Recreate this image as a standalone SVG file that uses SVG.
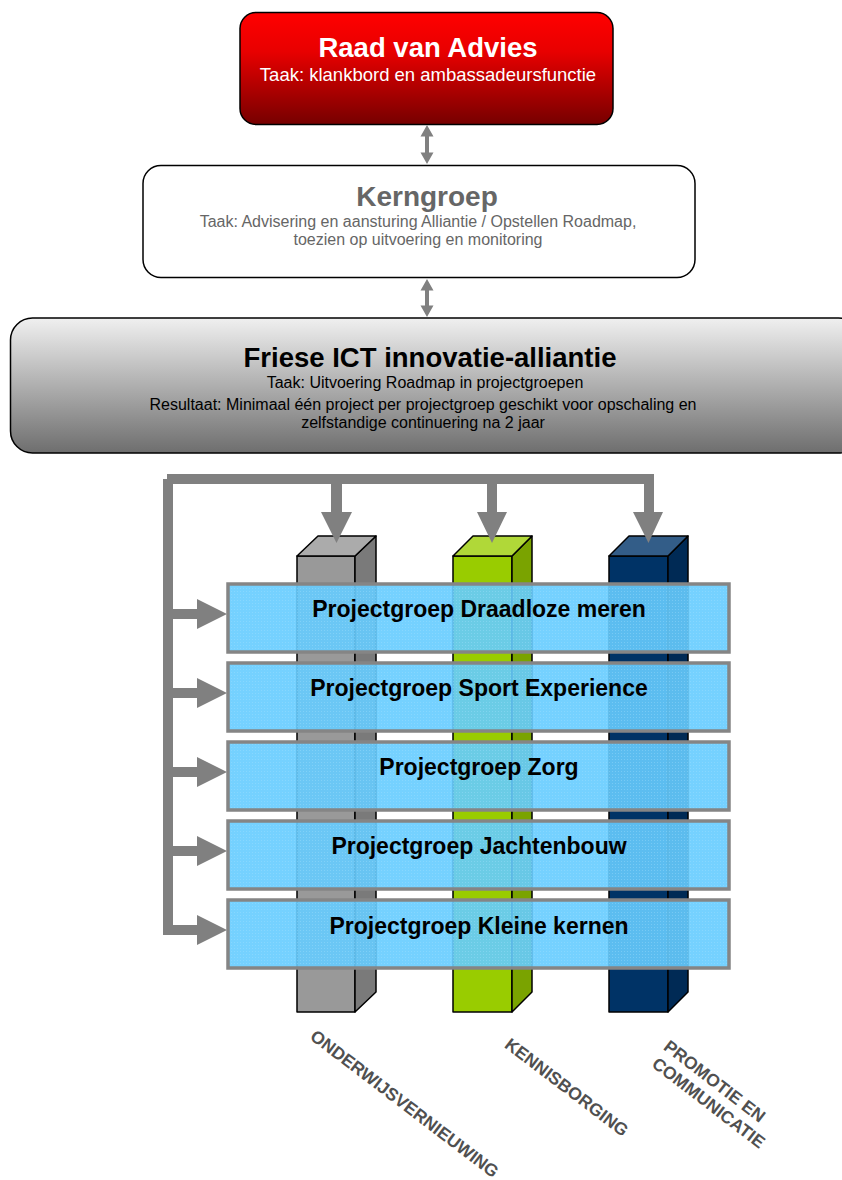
<svg xmlns="http://www.w3.org/2000/svg" width="842" height="1180" viewBox="0 0 842 1180">
<style>
text{font-family:"Liberation Sans",Arial,sans-serif}
.t{font-weight:bold;text-anchor:middle}
.s{text-anchor:middle}
.pg{font-weight:bold;font-size:23px;text-anchor:middle;fill:#000}
.pbox{fill:#66ccff;fill-opacity:0.9;stroke:#858585;stroke-width:3.5}
.tex{fill:url(#grid);stroke:none}
.edge{stroke:#000;stroke-width:1.5;stroke-linejoin:round}
.arr{fill:#808080;stroke:none}
.lab{font-weight:bold;font-size:17.5px;fill:#505050;text-anchor:middle}
</style>
<defs>
<linearGradient id="gRed" x1="0" y1="0" x2="0" y2="1">
<stop offset="0" stop-color="#ff0000"/>
<stop offset="0.35" stop-color="#e80000"/>
<stop offset="1" stop-color="#760000"/>
</linearGradient>
<linearGradient id="gGray" x1="0" y1="0" x2="0" y2="1">
<stop offset="0" stop-color="#f0f0f0"/>
<stop offset="1" stop-color="#6e6e6e"/>
</linearGradient>
<pattern id="grid" width="3" height="3" patternUnits="userSpaceOnUse">
<rect x="0" y="0" width="1" height="1" fill="#a8e2ff" fill-opacity="0.35"/>
</pattern>
</defs>

<g id="raad-van-advies">
<rect x="240" y="12.5" width="373" height="112" rx="16" fill="url(#gRed)" stroke="#000" stroke-width="1.5"/>
<text class="t" x="428" y="57" font-size="27.5" fill="#fff">Raad van Advies</text>
<text class="s" x="428" y="81" font-size="18.5" fill="#fff">Taak: klankbord en ambassadeursfunctie</text>
</g>

<g id="kerngroep">
<rect x="143" y="165.5" width="552" height="112" rx="18" fill="#fff" stroke="#000" stroke-width="1.5"/>
<text class="t" x="427" y="206" font-size="28" fill="#666">Kerngroep</text>
<text class="s" x="418" y="227" font-size="16" fill="#666">Taak: Advisering en aansturing Alliantie / Opstellen Roadmap,</text>
<text class="s" x="418" y="245" font-size="16" fill="#666">toezien op uitvoering en monitoring</text>
</g>

<g id="friese-ict-innovatie-alliantie">
<rect x="10.5" y="318" width="850" height="135" rx="22" fill="url(#gGray)" stroke="#000" stroke-width="1.5"/>
<text class="t" x="430" y="367" font-size="27.5" fill="#000">Friese ICT innovatie-alliantie</text>
<text class="s" x="425" y="388" font-size="16" fill="#000">Taak: Uitvoering Roadmap in projectgroepen</text>
<text class="s" x="423" y="410" font-size="16" fill="#000">Resultaat: Minimaal één project per projectgroep geschikt voor opschaling en</text>
<text class="s" x="423" y="428" font-size="16" fill="#000">zelfstandige continuering na 2 jaar</text>
</g>

<g id="pillar-onderwijsvernieuwing">
<rect class="edge" x="297" y="556" width="58" height="456" fill="#999999"/>
<polygon class="edge" points="355,556 376,536 376,992 355,1012" fill="#7a7a7a"/>
<polygon class="edge" points="297,556 318,536 376,536 355,556" fill="#ababab"/>
</g>
<g id="pillar-kennisborging">
<rect class="edge" x="453" y="556" width="59" height="456" fill="#99cc00"/>
<polygon class="edge" points="512,556 532,536 532,992 512,1012" fill="#7aa300"/>
<polygon class="edge" points="453,556 473,536 532,536 512,556" fill="#b0d838"/>
</g>
<g id="pillar-promotie">
<rect class="edge" x="609" y="556" width="59" height="456" fill="#003366"/>
<polygon class="edge" points="668,556 688,536 688,992 668,1012" fill="#002a55"/>
<polygon class="edge" points="609,556 629,536 688,536 668,556" fill="#335d88"/>
</g>

<g id="connectors">
<polygon class="arr" points="427,125 433.5,136.5 429,136.5 429,152.5 433.5,152.5 427,164 420.5,152.5 425,152.5 425,136.5 420.5,136.5"/>
<polygon class="arr" points="427,279 433.5,290.5 429,290.5 429,305.5 433.5,305.5 427,317 420.5,305.5 425,305.5 425,290.5 420.5,290.5"/>
<rect class="arr" x="167" y="474" width="487" height="10"/>
<rect class="arr" x="163" y="479" width="10" height="456"/>
<polygon class="arr" points="331,480 342,480 342,512 352,512 336.5,543 321,512 331,512"/>
<polygon class="arr" points="487,480 497,480 497,512 507,512 492,543 477,512 487,512"/>
<polygon class="arr" points="644,480 654,480 654,512 663,512 648.5,543 633,512 644,512"/>
<polygon class="arr" points="172,609 197,609 197,599 227,614 197,629 197,619 172,619"/>
<polygon class="arr" points="172,688 197,688 197,678 227,693 197,708 197,698 172,698"/>
<polygon class="arr" points="172,767 197,767 197,757 227,772 197,787 197,777 172,777"/>
<polygon class="arr" points="172,846 197,846 197,836 227,851 197,866 197,856 172,856"/>
<polygon class="arr" points="172,925 197,925 197,915 227,930 197,945 197,935 172,935"/>
</g>

<g id="projectgroep-draadloze-meren">
<rect class="pbox" x="228" y="584" width="501" height="68"/>
<rect class="tex" x="230" y="586" width="497" height="64"/>
<text class="pg" x="479" y="617">Projectgroep Draadloze meren</text>
</g>
<g id="projectgroep-sport-experience">
<rect class="pbox" x="228" y="663" width="501" height="68"/>
<rect class="tex" x="230" y="665" width="497" height="64"/>
<text class="pg" x="479" y="696">Projectgroep Sport Experience</text>
</g>
<g id="projectgroep-zorg">
<rect class="pbox" x="228" y="742" width="501" height="68"/>
<rect class="tex" x="230" y="744" width="497" height="64"/>
<text class="pg" x="479" y="775">Projectgroep Zorg</text>
</g>
<g id="projectgroep-jachtenbouw">
<rect class="pbox" x="228" y="821" width="501" height="68"/>
<rect class="tex" x="230" y="823" width="497" height="64"/>
<text class="pg" x="479" y="854">Projectgroep Jachtenbouw</text>
</g>
<g id="projectgroep-kleine-kernen">
<rect class="pbox" x="228" y="900" width="501" height="68"/>
<rect class="tex" x="230" y="902" width="497" height="64"/>
<text class="pg" x="479" y="934">Projectgroep Kleine kernen</text>
</g>

<g id="labels">
<text class="lab" x="401" y="1108.5" transform="rotate(37.3 401 1108.5)">ONDERWIJSVERNIEUWING</text>
<text class="lab" x="563" y="1092" transform="rotate(37.3 563 1092)">KENNISBORGING</text>
<text class="lab" x="711" y="1086" transform="rotate(37.5 711 1086)">PROMOTIE EN</text>
<text class="lab" x="705" y="1107.5" transform="rotate(37.5 705 1107.5)">COMMUNICATIE</text>
</g>
</svg>
